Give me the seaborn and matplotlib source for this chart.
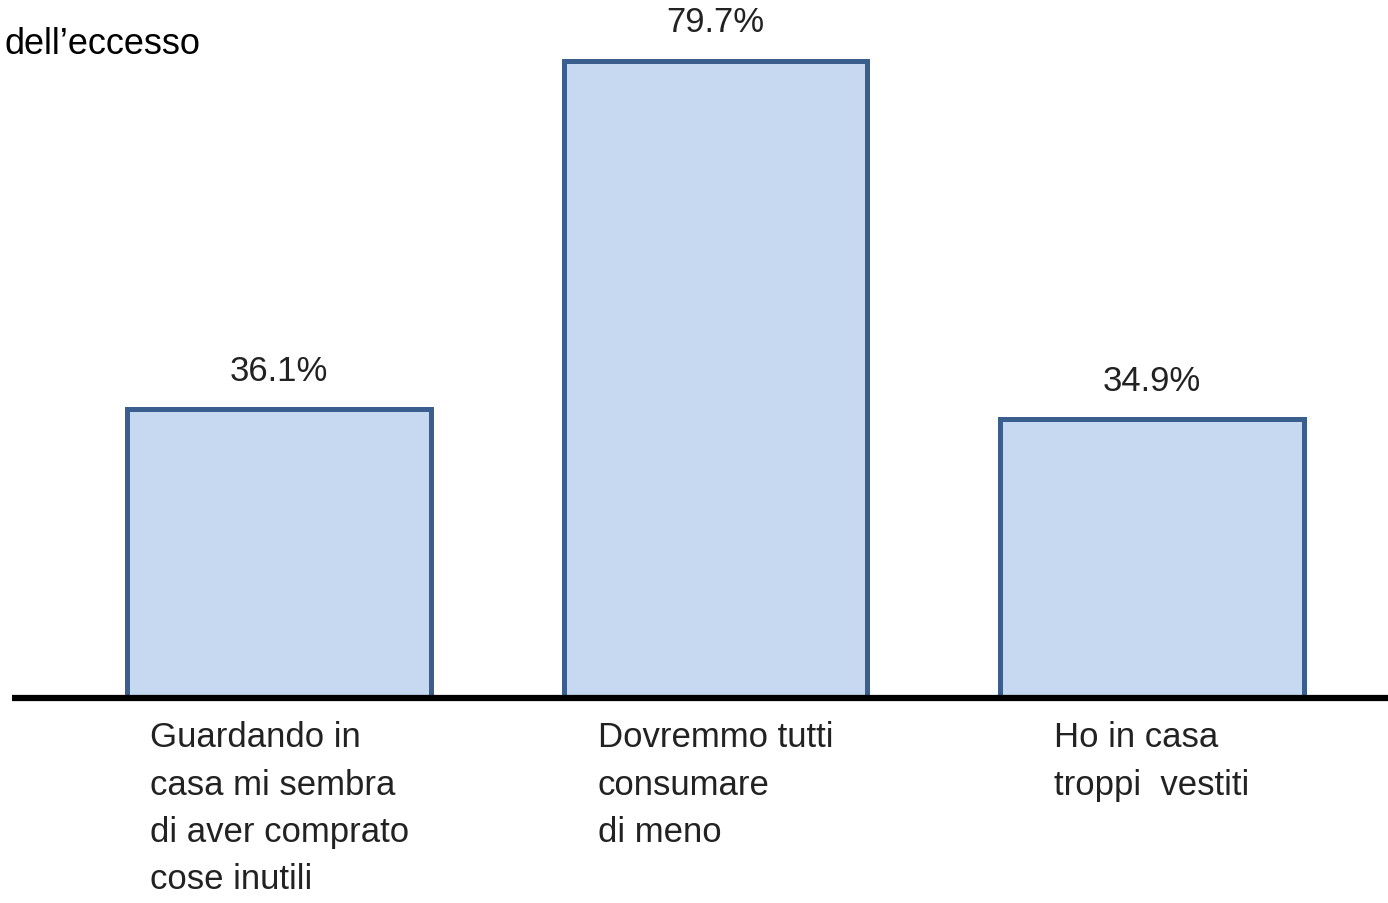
import matplotlib
matplotlib.use("Agg")
import matplotlib.pyplot as plt
import seaborn as sns
import pandas as pd

# chart values
categories = [
    "Guardando in\ncasa mi sembra\ndi aver comprato\ncose inutili",
    "Dovremmo tutti\nconsumare\ndi meno",
    "Ho in casa\ntroppi  vestiti",
]
percent = [36.1, 79.7, 34.9]
title_text = "dell\u2019eccesso"

df = pd.DataFrame({"categoria": categories, "valore": percent})

sns.set_style("white")
fonts = ["Liberation Sans", "DejaVu Sans"]
plt.rcParams["font.family"] = fonts

fig = plt.figure(figsize=(13.88, 9.04), dpi=100)
ax = fig.add_axes([12 / 1388, 205 / 904, 1 - 12 / 1388, 699 / 904])

sns.barplot(data=df, x="categoria", y="valore", color="#C6D9F0",
            edgecolor="#3A5F8F", linewidth=3.6, width=0.695,
            saturation=1, ax=ax)

ax.set_xlim(-0.612, 2.541)
ax.set_ylim(0, 87.4)

# value labels on top of the bars
for cont in ax.containers:
    ax.bar_label(cont, fmt="%.1f%%", padding=16, fontsize=25, color="#222222")

# axis styling: only a heavy base line
for side in ["top", "right", "left"]:
    ax.spines[side].set_visible(False)
ax.spines["bottom"].set_color("black")
ax.spines["bottom"].set_linewidth(4.5)
ax.spines["bottom"].set_capstyle("butt")
ax.spines["bottom"].set_zorder(5)
ax.set_yticks([])
ax.set_xlabel("")
ax.set_ylabel("")
ax.tick_params(axis="x", length=0, pad=16, labelsize=25, labelcolor="#222222")
for lab in ax.get_xticklabels():
    lab.set_horizontalalignment("center")
    lab.set_multialignment("left")
    lab.set_verticalalignment("top")
    lab.set_linespacing(1.55)

fig.text(5 / 1388, 1 - 45 / 904, title_text, fontsize=26, color="black",
         ha="left", va="center")

fig.savefig("out.png", dpi=100)
